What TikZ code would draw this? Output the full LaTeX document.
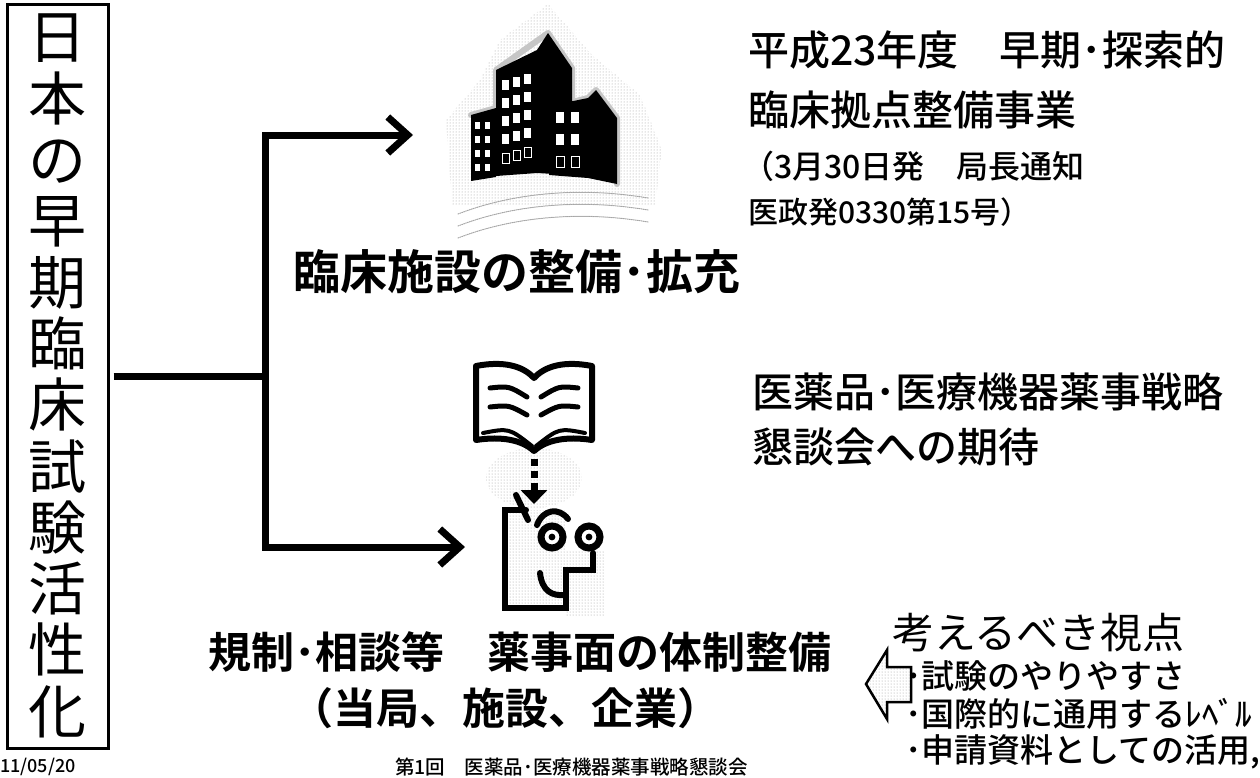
\documentclass[tikz,border=0pt]{standalone}
\usepackage{fontspec}
\setmainfont{Noto Sans CJK JP}[BoldFont={Noto Sans CJK JP Bold}]
\newfontfamily\jpmed{Noto Sans CJK JP Medium}
\usetikzlibrary{arrows.meta,patterns}

\newcommand{\fsz}[1]{\fontsize{#1}{#1}\selectfont}

\begin{document}
\begin{tikzpicture}[x=1pt, y=-1pt, line cap=round,
    thickline/.style={line width=7pt},
    iconline/.style={line width=6pt},
    halftone/.style={pattern=dots, pattern color=gray!80},
    txt/.style={anchor=west, inner sep=0pt},
    big/.style={font=\bfseries\fsz{#1}, inner sep=0pt}]
  \useasboundingbox (0,0) rectangle (1260,777);

  % title column
  \node[draw, line width=3pt, minimum width=101pt, minimum height=744pt,
        align=center, font=\fontsize{58}{61.3}\selectfont] (title) at (57.5,376)
        {日\\本\\の\\早\\期\\臨\\床\\試\\験\\活\\性\\化};

  % branching arrows
  \coordinate (split) at (265,376);
  \coordinate (top) at (413,135);
  \coordinate (bottom) at (465,547);
  \draw[thickline, line cap=butt] (title.east) ++(4,0) -- (split);
  \draw[thickline, -{Straight Barb[length=20pt, width=36pt]}] (split) |- (top);
  \draw[thickline, -{Straight Barb[length=20pt, width=36pt]}] (split) |- (bottom);

  % buildings
  \fill[halftone] (548,4) -- (592,55) -- (640,95) -- (662,150) -- (655,205)
    -- (452,205) -- (446,120) -- (480,80) -- (500,40) -- cycle;
  \foreach \d in {0,12,24}
    \draw[gray!70, densely dotted, line width=1pt] (458,214+\d) .. controls (520,190+\d) and (590,188+\d) .. (648,198+\d);
  \draw[gray!45, line width=6pt, line join=round] (471,115) -- (496,108) -- (496,70)
    -- (548,33) -- (572,68) -- (572,102) -- (588,98) -- (596,90) -- (617,118) -- (617,184);
  \fill (537,50) -- (548,33) -- (572,68) -- (572,175) -- (537,173) -- cycle;
  \fill (496,70) -- (537,50) -- (537,173) -- (496,176) -- cycle;
  \fill (471,115) -- (496,108) -- (496,177) -- (471,181) -- cycle;
  \fill (549,106) -- (588,98) -- (588,178) -- (549,175) -- cycle;
  \fill (588,98) -- (596,90) -- (617,118) -- (617,184) -- (588,178) -- cycle;
  \foreach \c in {0,1,2}
    \foreach \r in {0,...,3}
      \fill[white] (502+11*\c,80+18*\r-3*\c) rectangle ++(7,10);
  \foreach \c in {0,1,2}
    \draw[white, line width=1pt] (502+11*\c,153-3*\c) rectangle ++(7,10);
  \foreach \c in {0,1}
    \foreach \r in {0,...,3}
      \fill[white] (475+10*\c,122+14*\r) rectangle ++(5,7);
  \foreach \c in {0,1} {
    \fill[white] (556+15*\c,112) rectangle ++(8,11);
    \fill[white] (556+15*\c,134) rectangle ++(8,11);
    \draw[white, line width=1pt] (556+15*\c,156) rectangle ++(8,11);
  }

  % book
  \fill[halftone] (534,478) ellipse (48 and 30);
  \draw[iconline, line join=round, fill=white] (476,366) -- (476,440)
    .. controls (502,436) and (522,440) .. (534,451)
    .. controls (546,440) and (566,436) .. (592,440) -- (592,366)
    .. controls (566,361) and (546,365) .. (534,378)
    .. controls (522,365) and (502,361) .. (476,366) -- cycle;
  \foreach \s in {1,-1} {
    \draw[line width=5pt] (534-44*\s,388) .. controls (534-25*\s,386) .. (534-7*\s,397);
    \draw[line width=5pt] (534-44*\s,407) .. controls (534-25*\s,405) .. (534-7*\s,415);
    \draw[line width=4pt] (534-51*\s,433) .. controls (534-25*\s,428) .. (534-2*\s,446);
  }

  % reader
  \coordinate (bookfoot) at (534,459);
  \coordinate (facetop) at (534,504);
  \draw[line width=7pt, line cap=butt, dash pattern=on 7pt off 5pt,
        -{Triangle[length=14pt, width=26pt]}] (bookfoot) -- (facetop);
  \fill[halftone] (505,510) rectangle (566,608);
  \fill[halftone] (566,550) rectangle (604,615);
  \draw[iconline, line join=miter] (526,510) -- (505,510) -- (505,608) -- (566,608)
    -- (566,570) -- (593,570) -- (593,553);
  \draw[iconline] (516,495) -- (528,520);
  \filldraw[line width=7pt, fill=white] (552,537) circle (11);
  \filldraw[line width=7pt, fill=white] (589,537) circle (11);
  \fill (552,537) circle (3.4);
  \fill (589,537) circle (3.4);
  \draw[iconline] (537,525) .. controls (543,509) and (559,507) .. (568,519);
  \draw[iconline] (540,573) .. controls (542,591) and (552,596) .. (564,595);

  % viewpoint arrow
  \draw[line width=2.5pt, line join=miter, halftone] (866,684) -- (887,650) -- (887,667)
    -- (911,667) -- (911,702) -- (887,702) -- (887,719) -- cycle;

  % texts
  \node[big=47] (facility) at (517,272) {臨床施設の整備･拡充};
  \node[txt, font=\jpmed\fsz{41}] (plan) at (748,50) {平成23年度　早期･探索的};
  \node[txt, font=\jpmed\fsz{41}] (plan2) at (748,110) {臨床拠点整備事業};
  \node[txt, font=\jpmed\fsz{32}] (notice) at (742,166) {（3月30日発　局長通知};
  \node[txt, font=\jpmed\fsz{30}] (notice2) at (748,212) {医政発0330第15号）};
  \node[txt, font=\jpmed\fsz{41}] (council) at (752,392) {医薬品･医療機器薬事戦略};
  \node[txt, font=\jpmed\fsz{41}] (council2) at (752,447) {懇談会への期待};
  \node[big=43] (rules) at (520,652) {規制･相談等　薬事面の体制整備};
  \node[big=43] (parties) at (505,708) {（当局、施設、企業）};
  \node[txt, font=\fsz{42}] (view) at (892,633) {考えるべき視点};
  \node[txt, font=\jpmed\fsz{33}] (p1) at (905,676) {･試験のやりやすさ};
  \node[txt, font=\jpmed\fsz{33}] (p2) at (905,714) {･国際的に通用するﾚﾍﾞﾙ};
  \node[txt, font=\jpmed\fsz{33}] (p3) at (905,752) {･申請資料としての活用,};
  \node[txt, font=\jpmed\fsz{18}] (date) at (0,767) {11/05/20};
  \node[txt, font=\jpmed\fsz{19.5}] (meeting) at (395,767) {第1回　医薬品･医療機器薬事戦略懇談会};
\end{tikzpicture}
\end{document}
